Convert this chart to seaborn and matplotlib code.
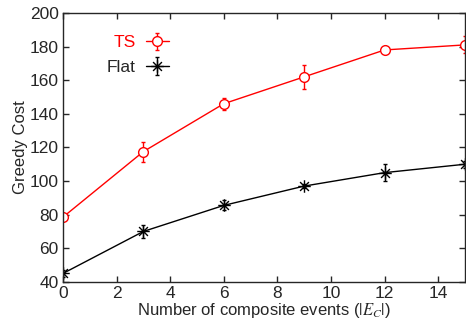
import numpy as np
import pandas as pd
import matplotlib
matplotlib.use('Agg')
import matplotlib.pyplot as plt
from matplotlib.path import Path
import seaborn as sns

x_vals = [0, 3, 6, 9, 12, 15]
ts_cost = [78.5, 117.5, 146, 162, 178, 181]
ts_err = [1.5, 6, 3.5, 7, 1, 5]
flat_cost = [45, 70, 85.5, 97, 105, 110]
flat_err = [2, 4, 3, 1, 5, 2]

df = pd.DataFrame({
    'x': x_vals * 2,
    'cost': ts_cost + flat_cost,
    'method': ['TS'] * len(x_vals) + ['Flat'] * len(x_vals),
})

sns.set_style('ticks')
plt.rcParams['font.family'] = ['Liberation Sans', 'DejaVu Sans']
plt.rcParams['mathtext.fontset'] = 'stix'

# asterisk marker: + and x overlaid
d = 0.707
star = Path([(0, -1), (0, 1), (-1, 0), (1, 0), (-d, -d), (d, d), (-d, d), (d, -d)],
            [Path.MOVETO, Path.LINETO] * 4)

fig, ax = plt.subplots(figsize=(4.66, 3.24), dpi=100)

sns.lineplot(data=df[df.method == 'TS'], x='x', y='cost', color='red', marker='o',
             markersize=7, markerfacecolor='white', markeredgecolor='red',
             markeredgewidth=1, linewidth=1, ax=ax)
sns.lineplot(data=df[df.method == 'Flat'], x='x', y='cost', color='black', marker=star,
             markersize=9, markeredgecolor='black', markeredgewidth=1, linewidth=1, ax=ax)
ax.errorbar(x_vals, ts_cost, yerr=ts_err, fmt='none', ecolor='red', elinewidth=1, capsize=1.5, zorder=1)
ax.errorbar(x_vals, flat_cost, yerr=flat_err, fmt='none', ecolor='black', elinewidth=1, capsize=1.5, zorder=1)

# legend proxies
h_ts = ax.errorbar([np.nan], [np.nan], yerr=[1], color='red', marker='o', markersize=7,
                   mfc='white', mec='red', lw=1, capsize=1.5)
h_flat = ax.errorbar([np.nan], [np.nan], yerr=[1], color='black', marker=star, markersize=9,
                     mec='black', lw=1, capsize=1.5)
leg = ax.legend([h_ts, h_flat], ['TS', 'Flat'], loc='upper left', markerfirst=False,
                frameon=False, fontsize=12.5, bbox_to_anchor=(0.07, 0.975),
                handlelength=1.3, handletextpad=0.6, labelspacing=0.55)
leg.get_texts()[0].set_color('red')

ax.set_xlim(0, 15)
ax.set_ylim(40, 200)
ax.set_xticks(range(0, 16, 2))
ax.set_yticks(range(40, 201, 20))
ax.tick_params(direction='in', top=True, right=True, labelsize=12.5, length=4, width=1, pad=3)
for s in ax.spines.values():
    s.set_linewidth(1)
    s.set_visible(True)
ax.set_xlabel('Number of composite events ($|E_C|$)', fontsize=12, labelpad=0)
ax.set_ylabel('Greedy Cost', fontsize=12, labelpad=1)

fig.subplots_adjust(left=0.135, right=0.998, top=0.96, bottom=0.13)
fig.savefig('out.png', dpi=100)
